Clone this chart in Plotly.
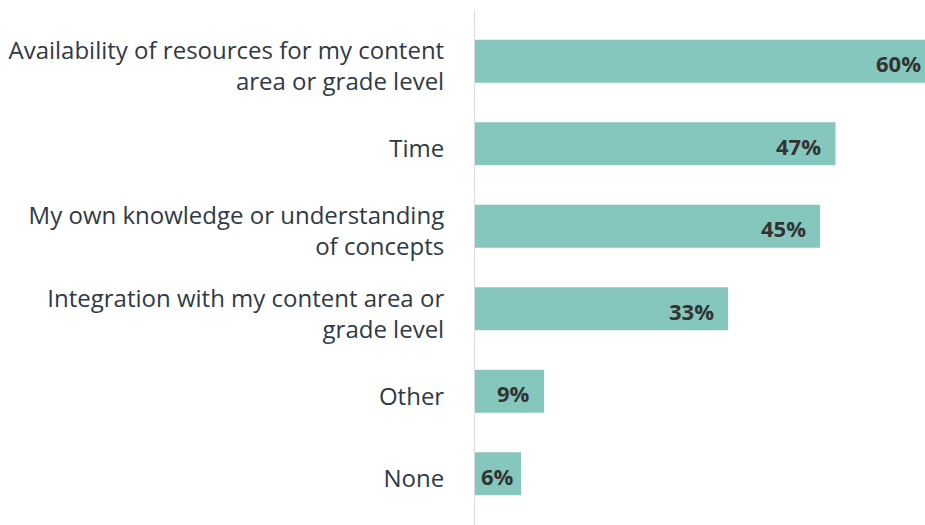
import plotly.graph_objects as go

categories = [
    "Availability of resources for my content<br>area or grade level",
    "Time",
    "My own knowledge or understanding<br>of concepts",
    "Integration with my content area or<br>grade level",
    "Other",
    "None",
]
values = [60, 47, 45, 33, 9, 6]
value_labels = [f"{v}%" for v in values]

BAR_COLOR = "#85C7BD"
TICK_COLOR = "#2f3a45"
VALUE_COLOR = "#333333"
FONT = "Open Sans"

X_MAX = 58.67
PLOT_W = 450
PX_PER_UNIT = PLOT_W / X_MAX
PAD = 12
LABEL_W = 35

fig = go.Figure()
fig.add_trace(go.Bar(
    x=values,
    y=categories,
    orientation="h",
    marker=dict(color=BAR_COLOR, line=dict(width=0)),
    width=0.52,
    hoverinfo="skip",
))

for v, c, lab in zip(values, categories, value_labels):
    xv = min(v, X_MAX)
    pad = min(PAD, max(3, (v * PX_PER_UNIT - LABEL_W) / 2))
    shift = -pad + (v - xv) * PX_PER_UNIT
    fig.add_annotation(
        x=xv, y=c, text=f"<b>{lab}</b>", showarrow=False,
        xanchor="right", yanchor="middle", xshift=shift, yshift=-2,
        font=dict(family=FONT, size=22, color=VALUE_COLOR),
    )

fig.update_layout(
    width=925, height=525,
    margin=dict(l=475, r=0, t=10, b=0),
    paper_bgcolor="white", plot_bgcolor="white",
    showlegend=False,
    font=dict(family=FONT, size=24, color=TICK_COLOR),
    xaxis=dict(range=[0, X_MAX], visible=False, showgrid=False, zeroline=False),
    yaxis=dict(
        range=[5.62, -0.62], showgrid=False, zeroline=False,
        showline=True, linecolor="#dcdcdc", linewidth=1,
        ticks="", ticklabelstandoff=25, ticklabelshift=-5,
        tickfont=dict(family=FONT, size=24, color=TICK_COLOR),
    ),
)

fig.write_html("out.html")
